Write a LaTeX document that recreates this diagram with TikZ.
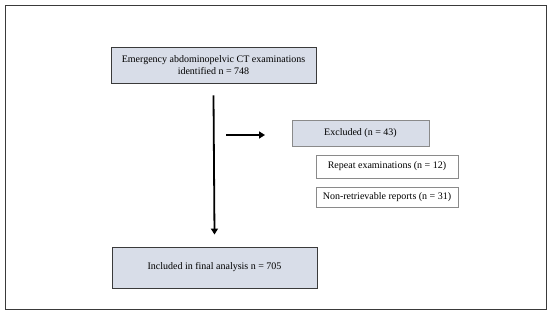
\documentclass[tikz,border=0pt]{standalone}
\usepackage{fontspec}
\setmainfont{Liberation Serif}
\usetikzlibrary{arrows.meta}
\definecolor{boxfill}{HTML}{D8DDE8}
\definecolor{boxline}{HTML}{3A3A3A}
\definecolor{lightline}{HTML}{8A8A8A}
\begin{document}
\begin{tikzpicture}[x=1pt,y=-1pt,
  mainbox/.style={draw=boxline,fill=boxfill,line width=0.9pt,inner sep=0pt,align=center,font=\fontsize{10}{12.5}\selectfont},
  subbox/.style={draw=lightline,fill=white,line width=0.8pt,inner sep=0pt,align=center,font=\fontsize{10}{12}\selectfont},
  arr/.style={line width=1.8pt,-{Triangle[length=6pt,width=7pt]}}]
\useasboundingbox (0,0) rectangle (550,314);
\draw[line width=1pt,draw=boxline] (5,5) rectangle (546,309);
\node[mainbox,minimum width=205pt,minimum height=36pt] (top) at (213.5,65) {Emergency abdominopelvic CT examinations\\identified n = 748};
\node[mainbox,minimum width=205pt,minimum height=41pt] (bottom) at (214.5,267.5) {Included in final analysis n = 705};
\node[mainbox,draw=lightline,minimum width=137pt,minimum height=26pt] (excl) at (360.5,133) {Excluded (n = 43)};
\node[subbox,minimum width=142pt,minimum height=23pt] (rep) at (387,166.5) {Repeat examinations (n = 12)};
\node[subbox,minimum width=142pt,minimum height=20pt] (nonr) at (387,197) {Non-retrievable reports (n = 31)};
\coordinate (hs) at (226,135);
\coordinate (he) at (265,135);
\draw[arr] ([yshift=-12pt]top.south) -- ([yshift=12pt]bottom.north);
\draw[arr] (hs) -- (he);
\end{tikzpicture}
\end{document}
